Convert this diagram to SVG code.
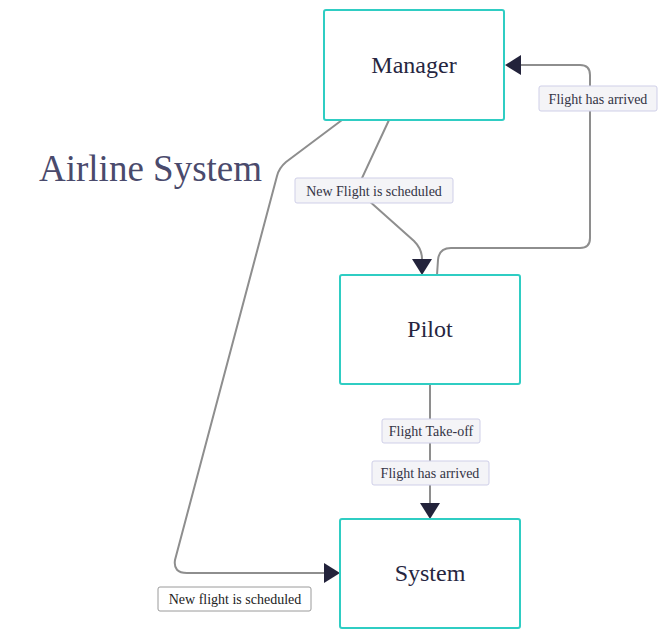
<svg xmlns="http://www.w3.org/2000/svg" width="667" height="639" viewBox="0 0 667 639">
<style>
.node rect{fill:#ffffff;stroke:#2fcdc3;stroke-width:2}
.node text{font-family:"Liberation Serif","Times New Roman",serif;font-size:24px;fill:#26263f;text-anchor:middle;dominant-baseline:central}
.edge{fill:none;stroke:#8e8e8e;stroke-width:2;marker-end:url(#arrow)}
.lbl rect{fill:#f4f4f7;stroke:#cfcfe8;stroke-width:1}
.lbl text{font-family:"Liberation Serif","Times New Roman",serif;font-size:14px;fill:#333344;text-anchor:middle;dominant-baseline:central}
.lbl.plain rect{fill:#ffffff;stroke:#9a9a9a}
.lbl.plain text{fill:#222222}
.title{font-family:"Liberation Serif","Times New Roman",serif;font-size:37px;fill:#4a4a6c}
</style>
<defs>
<marker id="arrow" viewBox="0 0 16 20" refX="0" refY="10" markerWidth="16" markerHeight="20" markerUnits="userSpaceOnUse" orient="auto">
<path d="M0,0 L16,10 L0,20 z" fill="#23233b"/>
</marker>
</defs>
<rect width="667" height="639" fill="#ffffff"/>
<text class="title" x="39" y="181">Airline System</text>
<g id="connectors">
<path class="edge" d="M389,120 L362,178 L368,200 L414,241 Q422,249 422,259"/>
<path class="edge" d="M437,275 L438,260 Q439,248 451,248 L580,248 Q590,248 590,238 L590,75 Q590,65 580,65 L521,65"/>
<path class="edge" d="M430,384 L430,503"/>
<path class="edge" d="M342,120 L286,162 Q279,168 277,176 L175,560 Q173,573 187,573 L324,573"/>
</g>
<g id="edge-labels">
<g class="lbl"><rect x="295" y="178" width="158" height="25" rx="2"/><text x="374" y="191">New Flight is scheduled</text></g>
<g class="lbl"><rect x="539" y="86" width="118" height="25" rx="2"/><text x="598" y="99">Flight has arrived</text></g>
<g class="lbl"><rect x="382" y="419" width="98" height="24" rx="2"/><text x="431" y="431">Flight Take-off</text></g>
<g class="lbl"><rect x="372" y="461" width="117" height="24" rx="2"/><text x="430" y="473">Flight has arrived</text></g>
<g class="lbl plain"><rect x="158" y="587" width="153" height="24" rx="2"/><text x="235" y="599">New flight is scheduled</text></g>
</g>
<g id="manager" class="node"><rect x="324" y="10" width="180" height="110" rx="2"/><text x="414" y="65">Manager</text></g>
<g id="pilot" class="node"><rect x="340" y="275" width="180" height="109" rx="2"/><text x="430" y="329">Pilot</text></g>
<g id="system" class="node"><rect x="340" y="519" width="180" height="109" rx="2"/><text x="430" y="573">System</text></g>
</svg>
